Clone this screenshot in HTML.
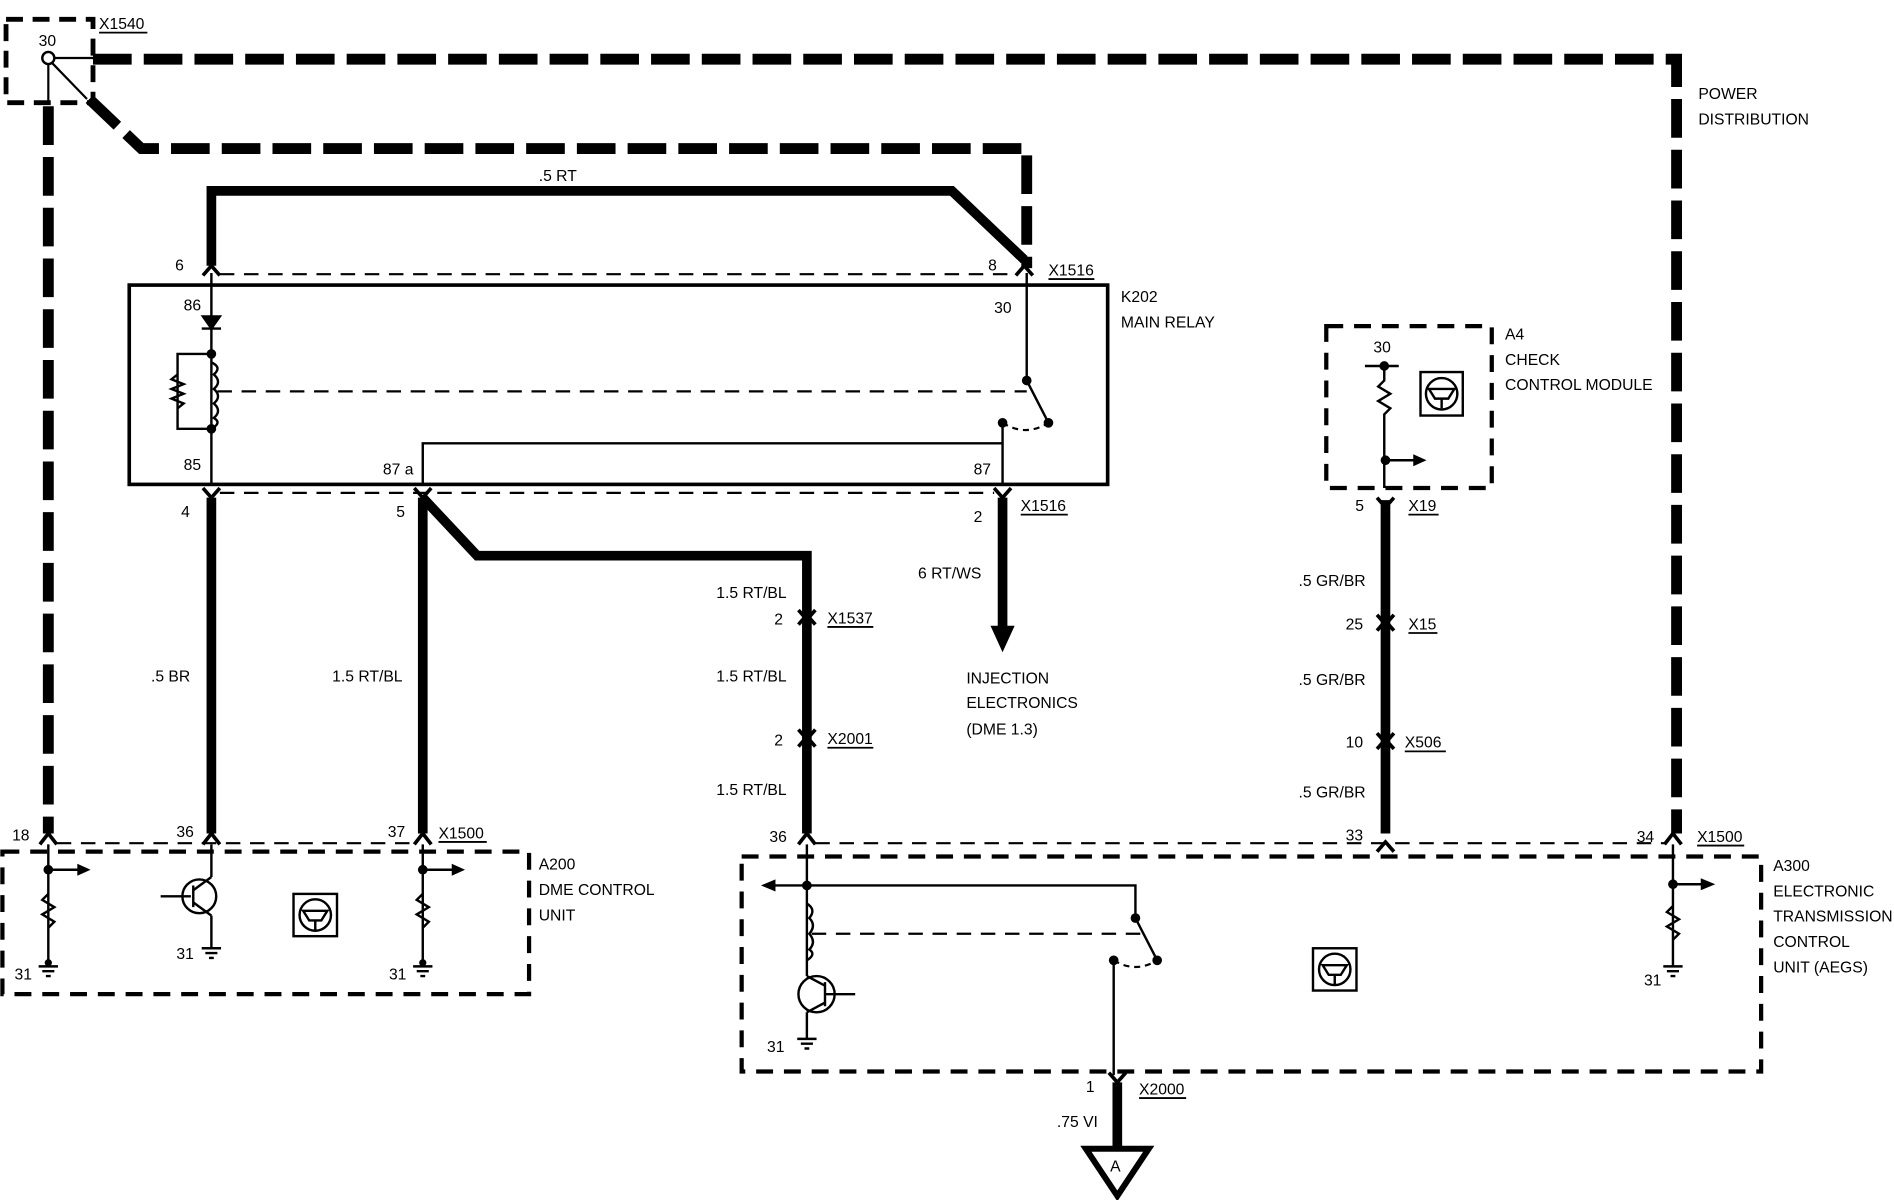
<!DOCTYPE html>
<html><head><meta charset="utf-8"><style>
html,body{margin:0;padding:0;background:#fff;}
svg{display:block}
text{font-family:"Liberation Sans",sans-serif;font-size:13px;fill:#000;}
</style></head><body>
<svg width="1894" height="1200" viewBox="0 0 1568 993.4" preserveAspectRatio="none" xmlns="http://www.w3.org/2000/svg">
<g fill="none" stroke="#000" stroke-linejoin="miter">
<!-- X1540 box -->
<rect x="5" y="16" width="72" height="69" stroke-width="4" stroke-dasharray="14,8"/>
<circle cx="40" cy="48" r="5" stroke-width="2"/>
<path d="M45 48H77M40 53V85M43 52L72 82" stroke-width="1.8"/>
<!-- power distribution thick dashed -->
<path d="M77 49H1388V690" stroke-width="9" stroke-dasharray="32,10"/>
<path d="M74 82L117 123H850V222" stroke-width="9" stroke-dasharray="32,10"/>
<path d="M40 88V690" stroke-width="9" stroke-dasharray="32,10"/>
<!-- .5 RT -->
<path d="M175 220V158H788L848 215" stroke-width="8"/>
<!-- top connector chevrons -->
<path d="M168 228L175 220L182 228M841 228L848 220L855 228" stroke-width="3"/>
<path d="M182 227H842" stroke-width="1.8" stroke-dasharray="12,8"/>
<!-- K202 -->
<rect x="107" y="236" width="810" height="165" stroke-width="3"/>
<path d="M175 226V401" stroke-width="2"/>
<path d="M168 262H182M168 262L175 272L182 262Z" stroke-width="2" fill="#000"/>
<path d="M167 272H183" stroke-width="2"/>
<path d="M175 293H147V355H175" stroke-width="2"/>
<path d="M147 310L142 314L152 318L142 322L152 326L142 330L152 334L147 338" stroke-width="2"/>
<path d="M175 300Q184 304 177 310Q184 316 177 322Q184 328 177 334Q184 340 177 346Q184 350 175 355" stroke-width="2"/>
<path d="M180 324H850" stroke-width="1.8" stroke-dasharray="12,8"/>
<path d="M850 226V315L868 350" stroke-width="2"/>
<path d="M830 350Q849 362 868 350" stroke-width="1.8" stroke-dasharray="5,4"/>
<path d="M350 401V367H830V350M830 367V401" stroke-width="2"/>
<!-- bottom relay connectors -->
<path d="M168 404L175 412L182 404M343 404L350 412L357 404M823 404L830 412L837 404" stroke-width="3"/>
<path d="M182 408H823" stroke-width="1.8" stroke-dasharray="12,8"/>
<path d="M175 412V690M350 412V690M350 412L395 460H668V690M830 412V520M1147 414V690" stroke-width="8"/>
<!-- inline connectors -->
<path d="M661 505L668 513L675 505M661 517L668 509L675 517M661 604L668 612L675 604M661 618L668 610L675 618" stroke-width="3"/>
<path d="M1140 412L1147 420L1154 412M1140 509L1147 517L1154 509M1140 522L1147 514L1154 522M1140 607L1147 615L1154 607M1140 620L1147 612L1154 620" stroke-width="3"/>
<!-- A4 -->
<rect x="1098" y="270" width="137" height="134" stroke-width="3.5" stroke-dasharray="14,9"/>
<path d="M1130 303H1158M1146 303V315L1141 320L1151 326L1141 332L1151 338L1146 343V404M1147 381H1172" stroke-width="2"/>
<rect x="1176" y="308" width="35" height="36" stroke-width="2"/>
<circle cx="1193.5" cy="326" r="13" stroke-width="2"/>
<path d="M1183 322H1204L1199 330H1188Z M1193.5 330V338" stroke-width="2"/>
<!-- bottom connectors y~693 -->
<path d="M33 699L40 690L47 699M168 699L175 690L182 699M343 699L350 690L357 699M661 699L668 690L675 699M1140 705L1147 697L1154 705M1378 699L1385 690L1392 699" stroke-width="3"/>
<path d="M47 698H343M675 698H1378" stroke-width="1.8" stroke-dasharray="12,8"/>
<!-- A200 -->
<rect x="2" y="705" width="436" height="118" stroke-width="3.5" stroke-dasharray="14,9"/>
<path d="M40 699V800M40 720H66M40 735V740L35 745L45 751L35 757L45 763L40 768V775" stroke-width="2"/>
<path d="M350 699V800M350 720H376M350 735V740L345 745L355 751L345 757L355 763L350 768V775" stroke-width="2"/>
<path d="M175 699V726M175 758V785M133 742H158M160 733V751M160 737L175 726M160 747L175 758" stroke-width="2"/>
<circle cx="165" cy="742" r="14" stroke-width="2"/>
<path d="M32 800H48M35 804H45M38 808H42M342 800H358M345 804H355M348 808H352M167 785H183M170 789H180M173 793H177" stroke-width="2"/>
<rect x="243" y="740" width="36" height="35" stroke-width="2"/>
<circle cx="261" cy="757.5" r="13" stroke-width="2"/>
<path d="M251 754H271L266 762H256Z M261 762V770" stroke-width="2"/>
<!-- A300 -->
<rect x="614" y="709" width="844" height="178" stroke-width="3.5" stroke-dasharray="14,9"/>
<path d="M668 699V808M640 733H940V760L958 795M922 795V890" stroke-width="2"/>
<path d="M922 795Q940 806 958 795" stroke-width="1.8" stroke-dasharray="5,4"/>
<path d="M668 748Q676 753 670 760Q676 766 670 773Q676 780 670 786Q676 790 668 795" stroke-width="2"/>
<path d="M672 773H945" stroke-width="1.8" stroke-dasharray="12,8"/>
<circle cx="676" cy="823" r="15" stroke-width="2"/>
<path d="M683 823H708M683 813V833M683 816L668 808M683 830L668 838M668 838V860M660 860H676M663 864H673M666 868H670" stroke-width="2"/>
<path d="M1385 699V800M1385 732H1410M1385 745V750L1380 755L1390 761L1380 767L1390 773L1385 778V785M1377 800H1393M1380 804H1390M1383 808H1387" stroke-width="2"/>
<rect x="1087" y="785" width="36" height="35" stroke-width="2"/>
<circle cx="1105" cy="802.5" r="13" stroke-width="2"/>
<path d="M1095 799H1115L1110 807H1100Z M1105 807V815" stroke-width="2"/>
<path d="M918 888L925 896L932 888" stroke-width="3"/>
<path d="M925 896V950" stroke-width="8"/>
<path d="M899 951H951L925 990Z" stroke-width="5"/>
</g>
<g fill="#000">
<circle cx="175" cy="293" r="4"/><circle cx="175" cy="355" r="4"/>
<circle cx="850" cy="315" r="4"/><circle cx="868" cy="350" r="4"/><circle cx="830" cy="350" r="4"/>
<path d="M820 518H840L830 540Z"/>
<circle cx="1146" cy="303" r="4"/><circle cx="1147" cy="381" r="4"/>
<path d="M1170 376L1181 381L1170 386Z"/>
<circle cx="40" cy="720" r="4"/><path d="M64 715L75 720L64 725Z"/>
<circle cx="350" cy="720" r="4"/><path d="M374 715L385 720L374 725Z"/>
<circle cx="668" cy="733" r="4"/><path d="M642 728L630 733L642 738Z"/>
<circle cx="940" cy="760" r="4"/><circle cx="958" cy="795" r="4"/><circle cx="922" cy="795" r="4"/>
<circle cx="1385" cy="732" r="4"/><path d="M1408 727L1420 732L1408 737Z"/>
<circle cx="40" cy="797" r="3"/><circle cx="350" cy="797" r="3"/>
</g>
<g>
<text x="82" y="24">X1540</text><path d="M82 27H122" stroke="#000" stroke-width="1.5"/>
<text x="32" y="38" font-size="12">30</text>
<text x="1406" y="82">POWER</text><text x="1406" y="103">DISTRIBUTION</text>
<text x="446" y="150">.5 RT</text>
<text x="145" y="224">6</text><text x="818" y="224">8</text>
<text x="868" y="228">X1516</text><path d="M868 231H906" stroke="#000" stroke-width="1.5"/>
<text x="928" y="250">K202</text><text x="928" y="271">MAIN RELAY</text>
<text x="152" y="257">86</text><text x="823" y="259">30</text>
<text x="152" y="389">85</text><text x="317" y="393">87 a</text><text x="806" y="393">87</text>
<text x="150" y="428">4</text><text x="328" y="428">5</text><text x="806" y="432">2</text>
<text x="845" y="423">X1516</text><path d="M845 426H884" stroke="#000" stroke-width="1.5"/>
<text x="125" y="564">.5 BR</text><text x="275" y="564">1.5 RT/BL</text>
<text x="593" y="495">1.5 RT/BL</text>
<text x="641" y="517">2</text><text x="685" y="516">X1537</text><path d="M685 519H723" stroke="#000" stroke-width="1.5"/>
<text x="593" y="564">1.5 RT/BL</text>
<text x="641" y="617">2</text><text x="685" y="616">X2001</text><path d="M685 619H723" stroke="#000" stroke-width="1.5"/>
<text x="593" y="658">1.5 RT/BL</text>
<text x="760" y="479">6 RT/WS</text>
<text x="800" y="566">INJECTION</text><text x="800" y="586">ELECTRONICS</text><text x="800" y="608">(DME 1.3)</text>
<text x="1246" y="281">A4</text><text x="1246" y="302">CHECK</text><text x="1246" y="323">CONTROL MODULE</text>
<text x="1137" y="292">30</text>
<text x="1122" y="423">5</text><text x="1166" y="423">X19</text><path d="M1166 426H1191" stroke="#000" stroke-width="1.5"/>
<text x="1075" y="485">.5 GR/BR</text>
<text x="1114" y="521">25</text><text x="1166" y="521">X15</text><path d="M1166 524H1190" stroke="#000" stroke-width="1.5"/>
<text x="1075" y="567">.5 GR/BR</text>
<text x="1114" y="619">10</text><text x="1163" y="619">X506</text><path d="M1163 622H1197" stroke="#000" stroke-width="1.5"/>
<text x="1075" y="660">.5 GR/BR</text>
<text x="10" y="696">18</text><text x="146" y="693">36</text><text x="321" y="693">37</text>
<text x="363" y="694">X1500</text><path d="M363 697H403" stroke="#000" stroke-width="1.5"/>
<text x="446" y="720">A200</text><text x="446" y="741">DME CONTROL</text><text x="446" y="762">UNIT</text>
<text x="12" y="811">31</text><text x="146" y="794">31</text><text x="322" y="811">31</text>
<text x="637" y="697">36</text><text x="1114" y="696">33</text><text x="1355" y="697">34</text>
<text x="1405" y="697">X1500</text><path d="M1405 700H1444" stroke="#000" stroke-width="1.5"/>
<text x="1468" y="721">A300</text><text x="1468" y="742">ELECTRONIC</text><text x="1468" y="763">TRANSMISSION</text><text x="1468" y="784">CONTROL</text><text x="1468" y="805">UNIT (AEGS)</text>
<text x="635" y="871">31</text><text x="1361" y="816">31</text>
<text x="899" y="904">1</text>
<text x="943" y="906">X2000</text><path d="M943 909H982" stroke="#000" stroke-width="1.5"/>
<text x="875" y="933">.75 VI</text>
<text x="919" y="970" font-size="15">A</text>
</g>
</svg>
</body></html>
